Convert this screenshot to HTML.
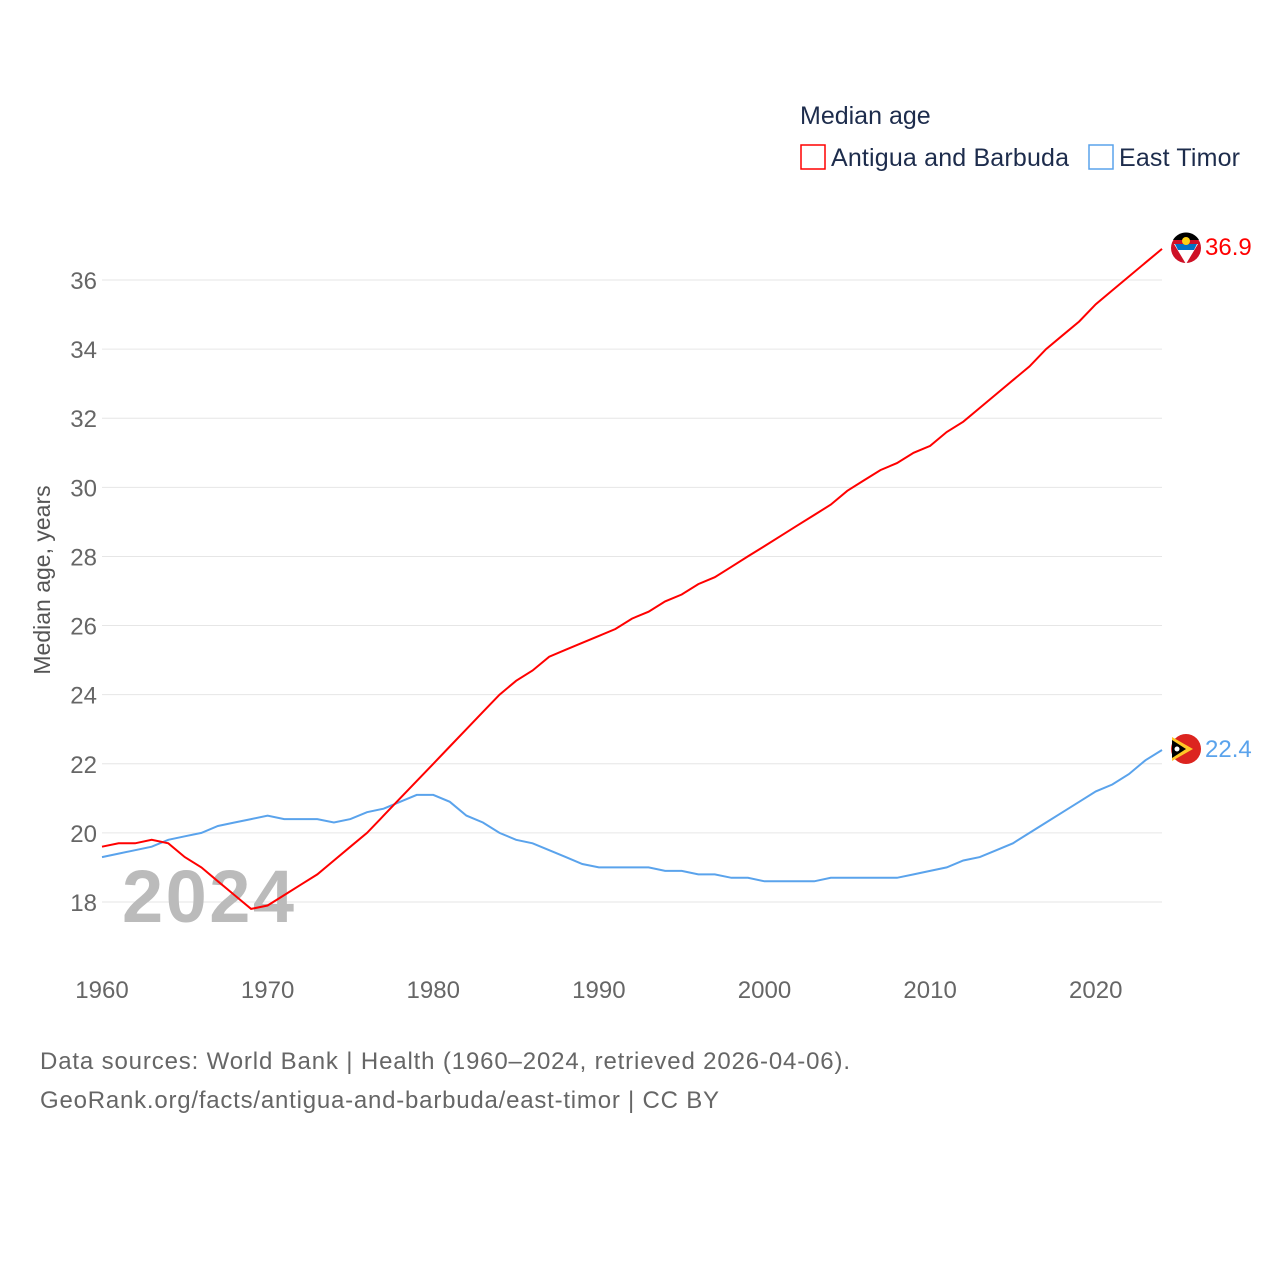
<!DOCTYPE html>
<html><head><meta charset="utf-8"><style>
body{margin:0;background:#fff;font-family:"Liberation Sans",sans-serif}
svg text{font-family:"Liberation Sans",sans-serif}
</style></head><body>
<svg width="1280" height="1280" xmlns="http://www.w3.org/2000/svg" id="chart">
<text x="800" y="124" font-size="25" fill="#1d2c4c">Median age</text>
<g>
<rect x="801" y="145" width="24" height="24" fill="none" stroke="#ff0000" stroke-width="1.5"/>
<text x="831" y="166" font-size="25" fill="#1d2c4c" textLength="238">Antigua and Barbuda</text></g>
<g>
<rect x="1089" y="145" width="24" height="24" fill="none" stroke="#5aa3ec" stroke-width="1.5"/>
<text x="1119" y="166" font-size="25" fill="#1d2c4c" textLength="121">East Timor</text></g>
<text transform="translate(50,580) rotate(-90)" text-anchor="middle" font-size="23" fill="#555">Median age, years</text>
<g id="grid"></g><g id="yt"></g><g id="xt"></g>
<text x="122" y="922" font-size="74" font-weight="bold" fill="#bbb" textLength="172">2024</text>
<g id="lines"></g>
<g>
<circle cx="1186" cy="248" r="15" fill="#ce1126"/>
<path d="M1173,240 A15,15 0 0 1 1199,240 Z" fill="#000"/>
<polygon points="1174,244 1198,244 1186,264" fill="#fff"/>
<polygon points="1175,244 1197,244 1194,250 1178,250" fill="#0072c6"/>
<circle cx="1186" cy="241" r="4" fill="#fcd116"/></g>
<text x="1205" y="255" font-size="24" fill="#ff0000">36.9</text>
<g>
<circle cx="1186" cy="749" r="15" fill="#dc241f"/>
<polygon points="1172,737 1193,749 1172,761" fill="#ffc726"/>
<polygon points="1172,740 1186,749 1172,758" fill="#000"/>
<circle cx="1177" cy="749" r="2.5" fill="#fff"/></g>
<text x="1205" y="757" font-size="24" fill="#5aa3ec">22.4</text>
<text x="40" y="1069" font-size="24" fill="#666" textLength="810">Data sources: World Bank | Health (1960–2024, retrieved 2026-04-06).</text>
<text x="40" y="1108" font-size="24" fill="#666" textLength="679">GeoRank.org/facts/antigua-and-barbuda/east-timor | CC BY</text>
</svg>
<script>
const years=[];for(let y=1960;y<=2024;y++)years.push(y);
const antigua=[19.6,19.7,19.7,19.8,19.7,19.3,19.0,18.6,18.2,17.8,17.9,18.2,18.5,18.8,19.2,19.6,20.0,20.5,21.0,21.5,22.0,22.5,23.0,23.5,24.0,24.4,24.7,25.1,25.3,25.5,25.7,25.9,26.2,26.4,26.7,26.9,27.2,27.4,27.7,28.0,28.3,28.6,28.9,29.2,29.5,29.9,30.2,30.5,30.7,31.0,31.2,31.6,31.9,32.3,32.7,33.1,33.5,34.0,34.4,34.8,35.3,35.7,36.1,36.5,36.9];
const timor=[19.3,19.4,19.5,19.6,19.8,19.9,20.0,20.2,20.3,20.4,20.5,20.4,20.4,20.4,20.3,20.4,20.6,20.7,20.9,21.1,21.1,20.9,20.5,20.3,20.0,19.8,19.7,19.5,19.3,19.1,19.0,19.0,19.0,19.0,18.9,18.9,18.8,18.8,18.7,18.7,18.6,18.6,18.6,18.6,18.7,18.7,18.7,18.7,18.7,18.8,18.9,19.0,19.2,19.3,19.5,19.7,20.0,20.3,20.6,20.9,21.2,21.4,21.7,22.1,22.4];
const yTicks=[18,20,22,24,26,28,30,32,34,36];
const xTicks=[1960,1970,1980,1990,2000,2010,2020];
const X=v=>102+(v-1960)*(1060/64), Y=v=>902-(v-18)*(622/18);
const NS="http://www.w3.org/2000/svg";
function mk(t,a,p){const e=document.createElementNS(NS,t);for(const k in a)e.setAttribute(k,a[k]);document.getElementById(p).appendChild(e);return e;}
yTicks.forEach(v=>{
 const l=mk('line',{x1:102,x2:1162,y1:Y(v),y2:Y(v),stroke:'#e6e6e6'},'grid');
 
 
 const t=mk('text',{x:97,y:Y(v)+9,'text-anchor':'end','font-size':24,fill:'#666'},'yt');t.textContent=v;
 
 
});
xTicks.forEach(v=>{
 const t=mk('text',{x:X(v),y:998,'text-anchor':'middle','font-size':24,fill:'#666'},'xt');t.textContent=v;
 
 
});
function line(d,c,n){
 const p=mk('path',{d:d.map((v,i)=>(i?'L':'M')+X(years[i]).toFixed(1)+','+Y(v).toFixed(1)).join(''),fill:'none',stroke:c,'stroke-width':2},'lines');
 
 
}
line(timor,'#5aa3ec','line-east-timor');
line(antigua,'#ff0000','line-antigua');
</script>
</body></html>
